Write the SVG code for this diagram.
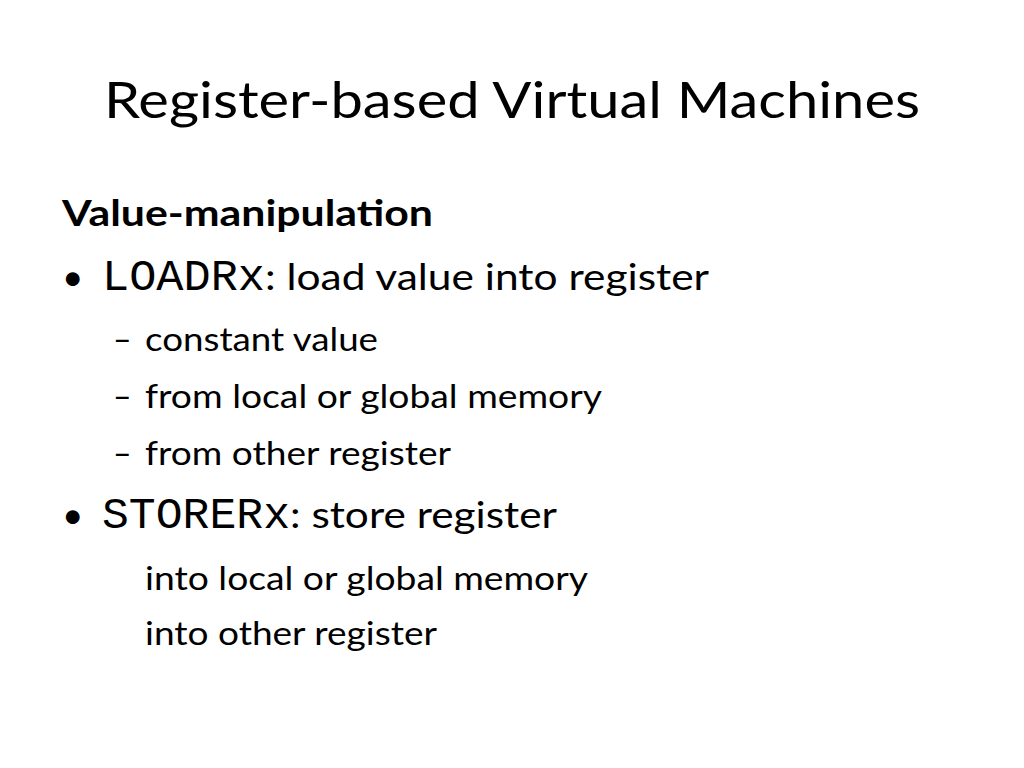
<svg xmlns="http://www.w3.org/2000/svg" width="1024" height="768" viewBox="0 0 1024 768">
<style>
text{font-family:Lato,"Open Sans",sans-serif;fill:#000}
.m{font-family:"Liberation Mono",monospace;font-size:45px}
.l1{font-size:37px}
.l2{font-size:32px}
</style>
<rect width="1024" height="768" fill="#fff"/>
<text x="512" y="118" font-size="50" text-anchor="middle" textLength="816" lengthAdjust="spacingAndGlyphs">Register-based Virtual Machines</text>
<text x="62" y="226" class="l1" font-weight="bold" textLength="371" lengthAdjust="spacingAndGlyphs">Value-manipulation</text>
<text x="62" y="290" class="l1">•</text>
<text x="102" y="290" class="m" textLength="163" lengthAdjust="spacingAndGlyphs">LOADRx</text>
<text x="265" y="290" class="l1" textLength="444" lengthAdjust="spacingAndGlyphs">: load value into register</text>
<text x="113" y="351" class="l2">–</text>
<text x="145" y="351" class="l2" textLength="233" lengthAdjust="spacingAndGlyphs">constant value</text>
<text x="113" y="408" class="l2">–</text>
<text x="145" y="408" class="l2" textLength="457" lengthAdjust="spacingAndGlyphs">from local or global memory</text>
<text x="113" y="465" class="l2">–</text>
<text x="145" y="465" class="l2" textLength="306" lengthAdjust="spacingAndGlyphs">from other register</text>
<text x="62" y="528" class="l1">•</text>
<text x="102" y="528" class="m" textLength="188" lengthAdjust="spacingAndGlyphs">STORERx</text>
<text x="290" y="528" class="l1" textLength="267" lengthAdjust="spacingAndGlyphs">: store register</text>
<text x="145" y="590" class="l2" textLength="443" lengthAdjust="spacingAndGlyphs">into local or global memory</text>
<text x="145" y="645" class="l2" textLength="292" lengthAdjust="spacingAndGlyphs">into other register</text>
</svg>
